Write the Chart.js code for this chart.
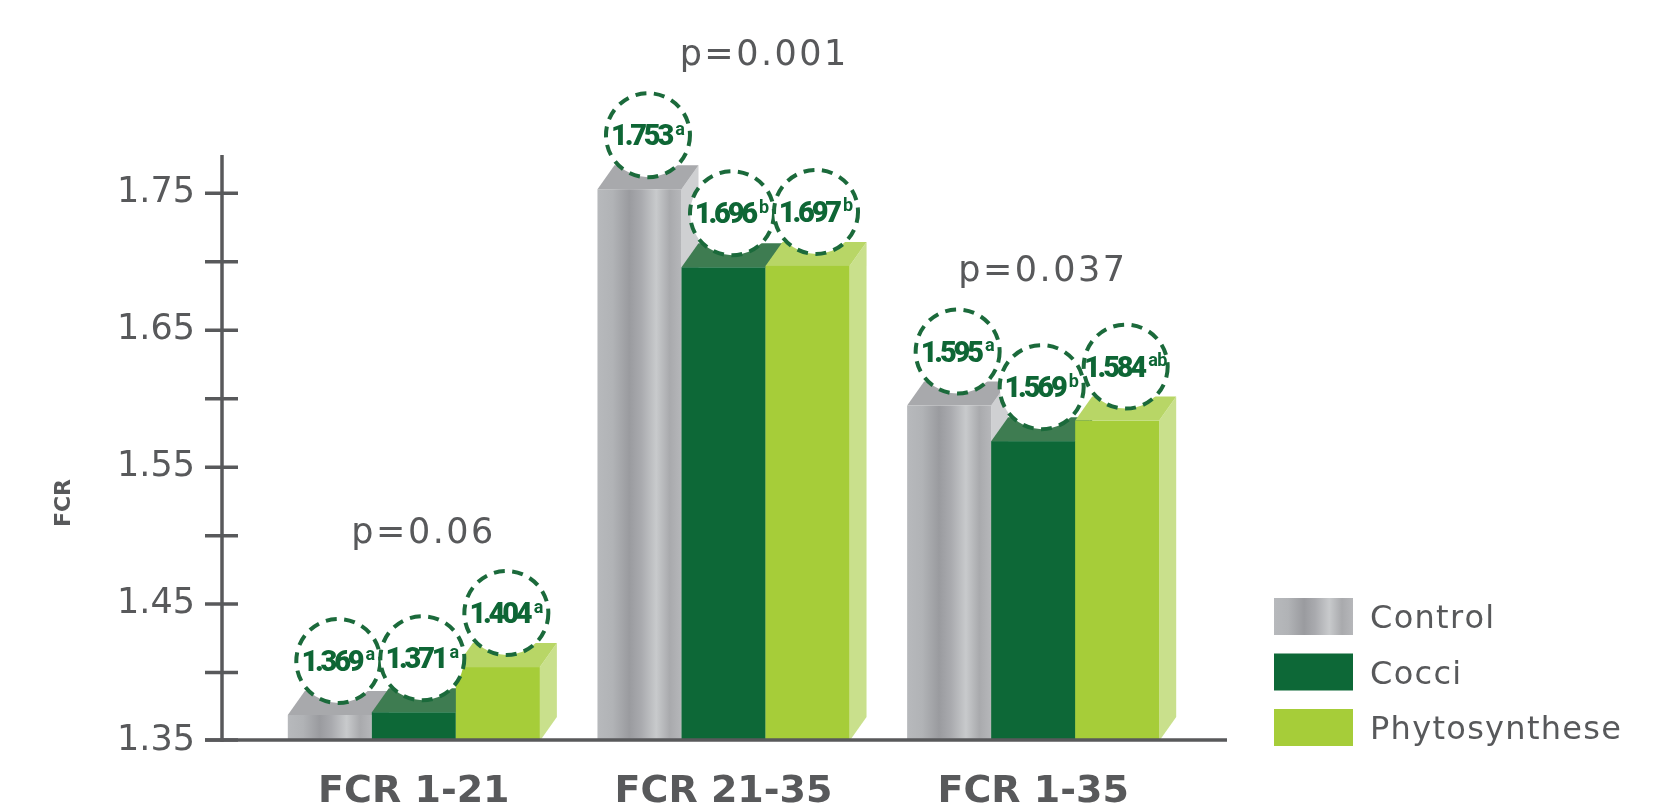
<!DOCTYPE html>
<html>
<head>
<meta charset="utf-8">
<title>FCR</title>
<script src="https://cdn.jsdelivr.net/npm/chart.js@4.4.1/dist/chart.umd.min.js"></script>
<style>
  html, body { margin: 0; padding: 0; background: #ffffff; }
  #wrap { position: relative; width: 1660px; height: 810px; }
</style>
</head>
<body>
<div id="wrap"><canvas id="c"></canvas></div>
<script>
// ---- data ----
const categories = ['FCR 1-21', 'FCR 21-35', 'FCR 1-35'];
const seriesNames = ['Control', 'Cocci', 'Phytosynthese'];
const controlValues = [1.369, 1.753, 1.595];
const cocciValues = [1.371, 1.696, 1.569];
const phytoValues = [1.404, 1.697, 1.584];
const controlLetters = ['a', 'a', 'a'];
const cocciLetters = ['a', 'b', 'b'];
const phytoLetters = ['a', 'b', 'ab'];
const pValues = ['p=0.06', 'p=0.001', 'p=0.037'];
const yTickValues = [1.35, 1.45, 1.55, 1.65, 1.75];
const yTickMarks = [1.35, 1.40, 1.45, 1.50, 1.55, 1.60, 1.65, 1.70, 1.75];

// ---- style ----
const GREY = '#58595b';
const LABEL_GREEN = '#0e6635';
const DASH_GREEN = '#1b6a3b';
const DX = 17, DY = 24;           // depth of the 3D bar faces
const CIRCLE_R = 42, CIRCLE_LIFT = 54;
const P_LIFT = 137;
const P_NUDGE = [0, 31, 0];
const faces = [
  { front: null, top: '#a8a9ac', side: '#cfd0d2' },
  { front: '#0d6837', top: '#3e7c51', side: '#2d7347' },
  { front: '#a6cd39', top: '#b8d666', side: '#c9e08c' }
];

function metalGradient(ctx, x0, x1) {
  const g = ctx.createLinearGradient(x0, 0, x1, 0);
  g.addColorStop(0.00, '#b7b9bc');
  g.addColorStop(0.18, '#b1b3b6');
  g.addColorStop(0.38, '#9a9b9f');
  g.addColorStop(0.52, '#a9aaae');
  g.addColorStop(0.70, '#c8cacc');
  g.addColorStop(0.86, '#a9aaad');
  g.addColorStop(1.00, '#b6b7ba');
  return g;
}

function poly(ctx, pts) {
  ctx.beginPath();
  ctx.moveTo(pts[0][0], pts[0][1]);
  for (let k = 1; k < pts.length; k++) ctx.lineTo(pts[k][0], pts[k][1]);
  ctx.closePath();
  ctx.fill();
}

function textWidth(ctx, text, spacing) {
  let w = 0;
  for (const ch of text) w += ctx.measureText(ch).width;
  return w + spacing * (text.length - 1);
}

function spacedText(ctx, text, x, y, spacing, align) {
  const w = textWidth(ctx, text, spacing);
  let cx = align === 'center' ? x - w / 2 : x;
  ctx.textAlign = 'left';
  for (const ch of text) {
    ctx.fillText(ch, cx, y);
    cx += ctx.measureText(ch).width + spacing;
  }
  return w;
}

const NUM_FONT = '900 29px Roboto';
const NUM_SPACING = -3.2;
const SUP_FONT = '700 18px Roboto';

const bars3d = {
  id: 'bars3d',
  beforeDatasetsDraw(chart) {
    const ctx = chart.ctx;
    const area = chart.chartArea;
    const yScale = chart.scales.y;
    const xScale = chart.scales.x;
    const datasets = chart.data.datasets;
    const floor = yScale.getPixelForValue(yScale.min);
    ctx.save();

    // bars: series order inside each group, so later bars hide earlier side faces
    for (let j = 0; j < categories.length; j++) {
      datasets.forEach((ds, i) => {
        const el = chart.getDatasetMeta(i).data[j];
        const l = el.x - el.width / 2, r = el.x + el.width / 2;
        const t = el.y, b = Math.min(el.base, floor);
        const f = faces[i];
        ctx.fillStyle = f.side;
        poly(ctx, [[r, t], [r + DX, t - DY], [r + DX, b - DY], [r, b]]);
        ctx.fillStyle = f.top;
        poly(ctx, [[l, t], [l + DX, t - DY], [r + DX, t - DY], [r, t]]);
        ctx.fillStyle = i === 0 ? metalGradient(ctx, l, r) : f.front;
        ctx.fillRect(l, t, r - l, b - t);
      });
    }

    // axes
    const ax = area.left - 37;
    ctx.strokeStyle = GREY;
    ctx.lineWidth = 3.5;
    ctx.lineCap = 'butt';
    ctx.beginPath();
    ctx.moveTo(ax, area.top);
    ctx.lineTo(ax, floor + 0.75);
    ctx.stroke();
    ctx.beginPath();
    ctx.moveTo(ax - 17, floor - 1);
    ctx.lineTo(area.right + 39, floor - 1);
    ctx.stroke();
    yTickMarks.forEach(v => {
      const py = yScale.getPixelForValue(v) - (v === yScale.min ? 1 : 0);
      ctx.beginPath();
      ctx.moveTo(ax - 17, py);
      ctx.lineTo(ax + 16, py);
      ctx.stroke();
    });

    // value badges
    datasets.forEach((ds, i) => {
      chart.getDatasetMeta(i).data.forEach((el, j) => {
        const cx = el.x + DX / 2, cy = el.y - CIRCLE_LIFT;
        ctx.beginPath();
        ctx.arc(cx, cy, CIRCLE_R, 0, Math.PI * 2);
        ctx.fillStyle = '#ffffff';
        ctx.fill();
        ctx.setLineDash([11, 7.5]);
        ctx.lineWidth = 4;
        ctx.strokeStyle = DASH_GREEN;
        ctx.stroke();
        ctx.setLineDash([]);

        const num = ds.data[j].toFixed(3);
        const sup = ds.letters[j];
        ctx.fillStyle = LABEL_GREEN;
        ctx.textBaseline = 'alphabetic';
        ctx.font = NUM_FONT;
        const wNum = textWidth(ctx, num, NUM_SPACING);
        ctx.font = SUP_FONT;
        const wSup = textWidth(ctx, sup, -0.5);
        const start = cx - (wNum + 1 + wSup) / 2;
        ctx.font = NUM_FONT;
        spacedText(ctx, num, start, cy + 10, NUM_SPACING, 'left');
        ctx.font = SUP_FONT;
        spacedText(ctx, sup, start + wNum + 1, cy - 0.5, -0.5, 'left');
      });
    });

    // p-values above each group
    ctx.fillStyle = GREY;
    ctx.font = '35px "DejaVu Sans"';
    ctx.textBaseline = 'alphabetic';
    categories.forEach((c, j) => {
      const top = Math.max(controlValues[j], cocciValues[j], phytoValues[j]);
      const px = xScale.getPixelForValue(j) + DX / 2 + P_NUDGE[j];
      const py = yScale.getPixelForValue(top) - P_LIFT + 12.8;
      spacedText(ctx, pValues[j], px, py, 2.5, 'center');
    });

    // axis title
    ctx.save();
    ctx.translate(64, 503);
    ctx.rotate(-Math.PI / 2);
    ctx.font = 'bold 22px "DejaVu Sans"';
    ctx.textAlign = 'center';
    ctx.textBaseline = 'middle';
    ctx.fillStyle = GREY;
    ctx.fillText('FCR', 0, 0);
    ctx.restore();

    // legend
    const lx = area.right + 86;
    seriesNames.forEach((name, i) => {
      const top = 598 + i * 55.5;
      ctx.fillStyle = i === 0 ? metalGradient(ctx, lx, lx + 79) : faces[i].front;
      ctx.fillRect(lx, top, 79, 37);
      ctx.fillStyle = GREY;
      ctx.font = '32px "DejaVu Sans"';
      ctx.textBaseline = 'alphabetic';
      spacedText(ctx, name, lx + 96, top + 18.5 + 11.7, 1.3, 'left');
    });

    ctx.restore();
    return false;
  }
};

new Chart(document.getElementById('c'), {
  type: 'bar',
  data: {
    labels: categories,
    datasets: [
      { label: seriesNames[0], data: controlValues, letters: controlLetters, backgroundColor: '#b1b3b6' },
      { label: seriesNames[1], data: cocciValues, letters: cocciLetters, backgroundColor: '#0d6837' },
      { label: seriesNames[2], data: phytoValues, letters: phytoLetters, backgroundColor: '#a6cd39' }
    ]
  },
  options: {
    responsive: true,
    maintainAspectRatio: false,
    animation: false,
    devicePixelRatio: 1,
    layout: { padding: { top: 155, right: 472, bottom: 0, left: 0 } },
    datasets: { bar: { categoryPercentage: 0.814, barPercentage: 1 } },
    plugins: { legend: { display: false }, tooltip: { enabled: false } },
    scales: {
      x: {
        grid: { display: false },
        border: { display: false },
        ticks: {
          color: GREY,
          font: { family: 'DejaVu Sans', weight: 'bold', size: 38 },
          padding: 20,
          maxRotation: 0,
          autoSkip: false
        },
        afterFit(s) { s.height = 69; s.paddingLeft = 0; s.paddingRight = 0; }
      },
      y: {
        min: 1.35,
        max: 1.778,
        grid: { display: false },
        border: { display: false },
        ticks: {
          color: GREY,
          font: { family: 'DejaVu Sans', size: 35 },
          padding: 56,
          callback: v => Number(v).toFixed(2)
        },
        afterBuildTicks(s) { s.ticks = yTickValues.map(v => ({ value: v })); },
        afterFit(s) { s.width = 259; s.paddingTop = 0; s.paddingBottom = 0; }
      }
    }
  },
  plugins: [bars3d]
});
</script>
</body>
</html>
